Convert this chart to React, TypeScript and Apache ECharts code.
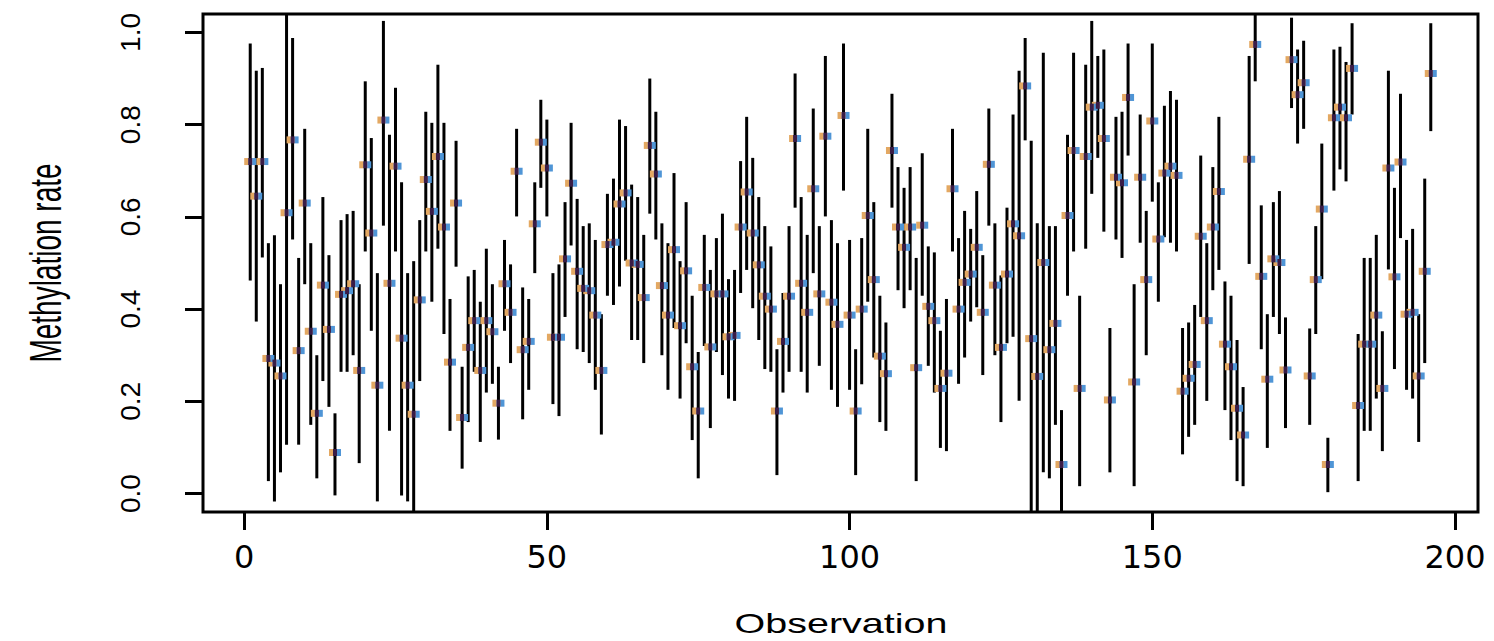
import React, { useEffect, useRef } from "react";
import * as echarts from "echarts";

const rate = [
  0.72, 0.645, 0.72, 0.293, 0.283, 0.255, 0.609, 0.767, 0.31, 0.63,
  0.352, 0.174, 0.452, 0.356, 0.089, 0.432, 0.44, 0.455, 0.267, 0.713,
  0.565, 0.235, 0.81, 0.456, 0.71, 0.337, 0.235, 0.172, 0.42, 0.681,
  0.612, 0.731, 0.578, 0.285, 0.63, 0.165, 0.317, 0.375, 0.267, 0.375,
  0.351, 0.196, 0.455, 0.393, 0.699, 0.312, 0.33, 0.585, 0.762, 0.706,
  0.339, 0.339, 0.509, 0.673, 0.482, 0.445, 0.44, 0.387, 0.267, 0.54,
  0.545, 0.628, 0.652, 0.5, 0.497, 0.425, 0.755, 0.693, 0.451, 0.387,
  0.529, 0.364, 0.483, 0.275, 0.179, 0.447, 0.318, 0.433, 0.433, 0.34,
  0.343, 0.578, 0.654, 0.565, 0.496, 0.428, 0.4, 0.179, 0.33, 0.428,
  0.77, 0.456, 0.393, 0.661, 0.433, 0.775, 0.415, 0.367, 0.82, 0.387,
  0.179, 0.4, 0.603, 0.464, 0.298, 0.26, 0.744, 0.578, 0.534, 0.578,
  0.273, 0.582, 0.406, 0.375, 0.228, 0.261, 0.661, 0.4, 0.458, 0.476,
  0.534, 0.393, 0.714, 0.452, 0.317, 0.476, 0.585, 0.559, 0.884, 0.336,
  0.254, 0.501, 0.312, 0.369, 0.063, 0.603, 0.744, 0.228, 0.731, 0.838,
  0.842, 0.77, 0.203, 0.686, 0.674, 0.859, 0.242, 0.686, 0.464, 0.808,
  0.552, 0.695, 0.71, 0.69, 0.222, 0.25, 0.28, 0.558, 0.375, 0.578,
  0.655, 0.324, 0.275, 0.185, 0.127, 0.725, 0.974, 0.471, 0.248, 0.509,
  0.501, 0.268, 0.941, 0.865, 0.891, 0.255, 0.464, 0.617, 0.063, 0.815,
  0.838, 0.815, 0.922, 0.191, 0.324, 0.324, 0.387, 0.228, 0.706, 0.47,
  0.719, 0.389, 0.393, 0.255, 0.482, 0.911,
];

const lower = [
  0.462, 0.373, 0.512, 0.027, -0.017, 0.046, 0.106, 0.551, 0.106, 0.454,
  0.149, 0.033, 0.244, 0.188, -0.004, 0.264, 0.264, 0.3, 0.066, 0.525,
  0.353, -0.017, 0.581, 0.136, 0.525, -0.004, -0.017, -0.1, 0.244, 0.525,
  0.416, 0.531, 0.346, 0.136, 0.492, 0.054, 0.155, 0.264, 0.112, 0.219,
  0.238, 0.117, 0.353, 0.283, 0.601, 0.161, 0.225, 0.478, 0.663, 0.601,
  0.194, 0.168, 0.383, 0.538, 0.313, 0.307, 0.283, 0.225, 0.128, 0.429,
  0.409, 0.449, 0.505, 0.333, 0.333, 0.283, 0.607, 0.551, 0.3, 0.225,
  0.359, 0.206, 0.326, 0.116, 0.033, 0.32, 0.142, 0.307, 0.257, 0.206,
  0.201, 0.435, 0.485, 0.402, 0.333, 0.27, 0.264, 0.04, 0.219, 0.264,
  0.62, 0.264, 0.219, 0.478, 0.277, 0.601, 0.225, 0.188, 0.657, 0.225,
  0.04, 0.237, 0.416, 0.295, 0.155, 0.136, 0.62, 0.441, 0.402, 0.441,
  0.027, 0.429, 0.277, 0.219, 0.099, 0.092, 0.525, 0.238, 0.295, 0.373,
  0.404, 0.257, 0.581, 0.3, 0.155, 0.326, 0.34, 0.201, 0.766, -0.1,
  -0.1, 0.046, 0.033, 0.149, -0.1, 0.429, 0.525, 0.016, 0.531, 0.65,
  0.728, 0.568, 0.046, 0.551, 0.511, 0.733, 0.016, 0.544, 0.3, 0.633,
  0.416, 0.556, 0.544, 0.525, 0.085, 0.123, 0.149, 0.383, 0.201, 0.441,
  0.485, 0.181, 0.116, 0.027, 0.016, 0.498, 0.894, 0.313, 0.099, 0.383,
  0.346, 0.142, 0.836, 0.759, 0.791, 0.149, 0.346, 0.465, 0.003, 0.657,
  0.703, 0.677, 0.822, 0.027, 0.136, 0.136, 0.206, 0.092, 0.486, 0.27,
  0.554, 0.225, 0.206, 0.112, 0.283, 0.786,
];

const upper = [
  0.976, 0.917, 0.923, 0.543, 0.56, 0.454, 1.1, 0.988, 0.511, 0.791,
  0.543, 0.3, 0.643, 0.517, 0.174, 0.593, 0.606, 0.613, 0.454, 0.894,
  0.771, 0.478, 1.025, 0.778, 0.88, 0.675, 0.478, 0.504, 0.593, 0.828,
  0.804, 0.93, 0.804, 0.422, 0.765, 0.275, 0.471, 0.485, 0.416, 0.531,
  0.454, 0.275, 0.55, 0.497, 0.791, 0.447, 0.422, 0.675, 0.854, 0.811,
  0.478, 0.497, 0.632, 0.804, 0.639, 0.58, 0.586, 0.55, 0.389, 0.65,
  0.683, 0.811, 0.797, 0.67, 0.643, 0.561, 0.9, 0.828, 0.586, 0.543,
  0.695, 0.504, 0.632, 0.429, 0.307, 0.561, 0.485, 0.554, 0.607, 0.465,
  0.485, 0.721, 0.817, 0.728, 0.643, 0.58, 0.536, 0.313, 0.435, 0.58,
  0.911, 0.643, 0.561, 0.835, 0.58, 0.949, 0.593, 0.543, 0.976, 0.55,
  0.313, 0.554, 0.791, 0.632, 0.429, 0.371, 0.867, 0.708, 0.663, 0.708,
  0.511, 0.738, 0.536, 0.523, 0.353, 0.422, 0.791, 0.554, 0.613, 0.574,
  0.656, 0.517, 0.835, 0.586, 0.473, 0.62, 0.822, 0.917, 0.988, 0.765,
  0.586, 0.956, 0.58, 0.58, 0.181, 0.778, 0.956, 0.429, 0.93, 1.025,
  0.949, 0.963, 0.359, 0.817, 0.828, 0.976, 0.454, 0.822, 0.613, 0.976,
  0.675, 0.841, 0.873, 0.854, 0.359, 0.371, 0.409, 0.733, 0.543, 0.708,
  0.817, 0.46, 0.429, 0.333, 0.231, 0.949, 1.1, 0.625, 0.389, 0.632,
  0.656, 0.382, 1.032, 0.963, 0.982, 0.358, 0.58, 0.759, 0.121, 0.963,
  0.969, 0.936, 1.02, 0.346, 0.511, 0.511, 0.561, 0.352, 0.917, 0.663,
  0.867, 0.55, 0.574, 0.389, 0.683, 1.02,
];

const obs = rate.map((_, i) => i + 1);
const xTicks = [0, 50, 100, 150, 200];
const yTicks = [0, 0.2, 0.4, 0.6, 0.8, 1.0];
const xTitle = "Observation";
const yTitle = "Methylation rate";

const Y_MIN = -0.04;
const Y_MAX = 1.04;

export default function App() {
  const ref = useRef<HTMLDivElement>(null);

  useEffect(() => {
    if (!ref.current) return;
    const chart = echarts.init(ref.current, null, { renderer: "svg" });

    const barData = obs.map((o, i) => [o, lower[i], upper[i]]);
    const ptData = obs.map((o, i) => [o, rate[i]]);

    const clamp = (v: number) => Math.max(Y_MIN, Math.min(Y_MAX, v));

    const markerSeries = (color: string, dx: number, w: number) => ({
      type: "scatter",
      data: ptData,
      symbol: "rect",
      symbolSize: [w, 7],
      symbolOffset: [dx, 0],
      itemStyle: { color, opacity: 1 },
      z: 5,
      silent: true,
    });

    chart.setOption({
      animation: false,
      backgroundColor: "#ffffff",
      grid: {
        left: 203,
        right: 16,
        top: 14,
        bottom: 129,
        show: true,
        borderColor: "#000",
        borderWidth: 3,
        backgroundColor: "transparent",
      },
      xAxis: {
        type: "value",
        min: -6.8,
        max: 203.8,
        axisLine: { show: false, onZero: false },
        splitLine: { show: false },
        axisTick: {
          show: true,
          inside: false,
          length: 18,
          customValues: xTicks,
          lineStyle: { color: "#000", width: 3 },
        },
        axisLabel: {
          customValues: xTicks,
          fontFamily: "DejaVu Sans",
          fontSize: 32,
          color: "#000",
          margin: 29,
        },
      },
      yAxis: {
        type: "value",
        min: Y_MIN,
        max: Y_MAX,
        axisLine: { show: false, onZero: false },
        splitLine: { show: false },
        axisTick: {
          show: true,
          inside: false,
          length: 18,
          customValues: yTicks,
          lineStyle: { color: "#000", width: 3 },
        },
        axisLabel: {
          customValues: yTicks,
          formatter: (v: number) => v.toFixed(1),
          rotate: 90,
          fontFamily: "Liberation Sans",
          fontSize: 28,
          color: "#000",
          margin: 59,
        },
      },
      graphic: [
        {
          type: "text",
          x: 841,
          y: 623,
          scaleX: 1.41,
          style: {
            text: xTitle,
            fontFamily: "Liberation Sans",
            fontSize: 28,
            fill: "#000",
            align: "center",
            verticalAlign: "middle",
          },
        },
        {
          type: "text",
          x: 45,
          y: 263,
          rotation: Math.PI / 2,
          scaleY: 1.6,
          style: {
            text: yTitle,
            fontFamily: "Liberation Sans",
            fontSize: 28,
            fill: "#000",
            align: "center",
            verticalAlign: "middle",
          },
        },
      ],
      series: [
        {
          type: "custom",
          clip: true,
          data: barData,
          encode: { x: 0, y: [1, 2] },
          renderItem: (params: any, api: any) => {
            const x = api.value(0);
            const p1 = api.coord([x, clamp(api.value(1))]);
            const p2 = api.coord([x, clamp(api.value(2))]);
            return {
              type: "line",
              shape: { x1: p1[0], y1: p1[1], x2: p2[0], y2: p2[1] },
              style: { stroke: "#000", lineWidth: 3 },
            };
          },
          z: 2,
          silent: true,
        },
        markerSeries("#e3a862", -4, 4),
        markerSeries("#4f95d6", 4, 4),
        markerSeries("#3a1c46", 0, 4),
      ],
    });

    return () => chart.dispose();
  }, []);

  return (
    <div
      ref={ref}
      style={{ position: "absolute", left: 0, top: 0, width: 1494, height: 641 }}
    />
  );
}
